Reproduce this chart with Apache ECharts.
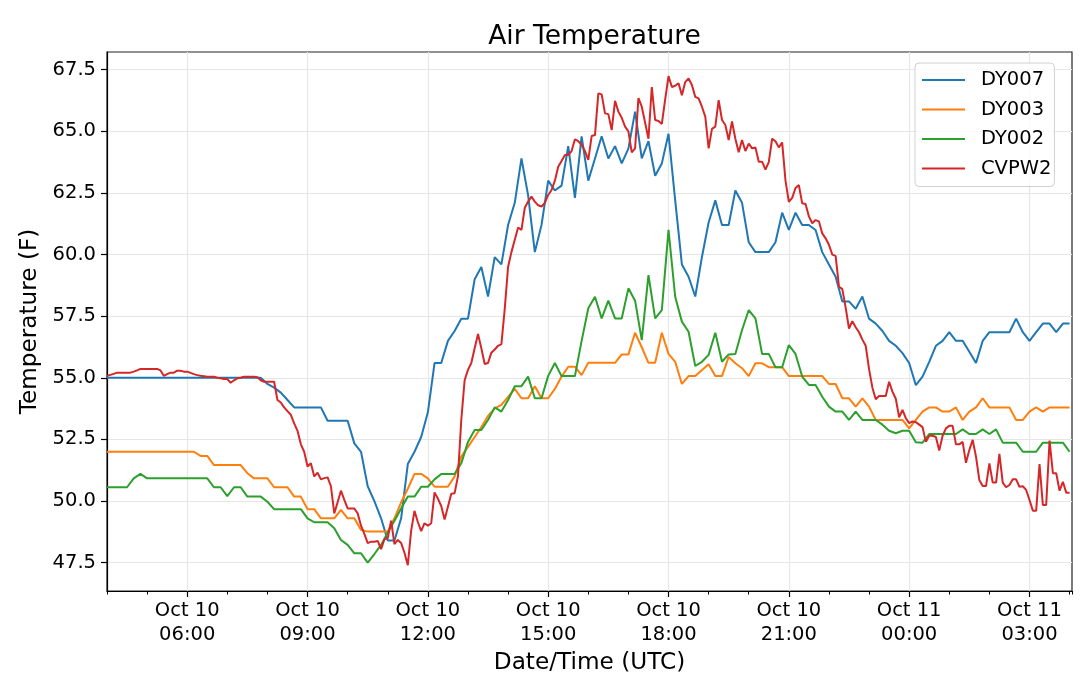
<!DOCTYPE html>
<html>
<head>
<meta charset="utf-8">
<script src="https://cdn.jsdelivr.net/npm/echarts@6/dist/echarts.min.js"></script>
<style>
html,body{margin:0;padding:0;background:#fff;}
#chart{width:1080px;height:675px;}
</style>
</head>
<body>
<div id="chart"></div>
<script>
// Time: hours since Oct 10 00:00 (UTC)
const startHour = 4;            // Oct 10 04:00
const step10 = 1 / 6;           // 10-minute sampling (DY stations)
const step5 = 1 / 12;           // 5-minute sampling (CVPW2)
const xMin = 4, xMax = 28.06;
const xMajorTicks = [6, 9, 12, 15, 18, 21, 24, 27];
const yTicks = [47.5, 50.0, 52.5, 55.0, 57.5, 60.0, 62.5, 65.0, 67.5];
const seriesNames = ['DY007', 'DY003', 'DY002', 'CVPW2'];
const seriesColors = ['#1f77b4', '#ff7f0e', '#2ca02c', '#d62728'];

const dy007 = [
  55.0,55.0,55.0,55.0,55.0,55.0,55.0,55.0,55.0,55.0,55.0,55.0,
  55.0,55.0,55.0,55.0,55.0,55.0,55.0,55.0,55.0,55.0,55.0,55.0,
  54.75,54.6,54.4,54.1,
  53.8,53.8,53.8,53.8,53.8,
  53.26,53.26,53.26,53.26,
  52.34,52.0,50.6,50.0,49.3,48.4,48.4,49.3,51.5,52.0,52.6,53.6,
  55.6,55.6,56.5,56.9,57.4,57.4,
  59.0,59.5,58.3,59.9,59.6,61.2,62.1,63.9,62.4,60.1,61.2,63.0,
  62.6,62.8,64.4,62.3,64.8,63.0,63.9,64.8,63.9,64.4,63.7,64.3,
  65.8,63.9,64.6,63.2,63.7,64.9,62.2,59.6,59.1,58.3,59.9,61.3,
  62.2,61.2,61.2,62.6,62.1,60.5,60.1,60.1,60.1,60.5,61.7,61.0,
  61.7,61.2,61.2,61.0,60.1,59.6,59.1,58.1,58.1,57.8,58.3,57.4,
  57.2,56.9,56.5,56.3,56.0,55.6,54.7,55.05,55.65,56.3,56.5,56.85,
  56.5,56.5,56.06,55.6,56.5,56.85,56.85,56.85,56.85,57.4,56.85,56.5,
  56.85,57.2,57.2,56.85,57.2,57.2
];

const dy003 = [
  52.0,52.0,52.0,52.0,52.0,52.0,52.0,52.0,52.0,52.0,52.0,52.0,52.0,52.0,
  51.83,51.83,51.46,51.46,51.46,51.46,51.46,51.13,50.92,50.92,
  50.92,50.56,50.56,50.56,50.18,50.18,49.67,49.67,49.3,49.3,49.3,49.64,
  49.3,49.3,48.83,48.76,48.76,48.76,48.76,49.3,49.95,50.5,51.1,51.1,
  50.92,50.58,50.58,50.58,51.0,51.8,52.2,52.6,53.0,53.45,53.76,53.9,
  54.23,54.55,54.17,54.17,54.66,54.17,54.17,54.55,55.05,55.45,55.45,55.11,
  55.61,55.61,55.61,55.61,55.61,55.95,55.95,56.83,56.24,55.61,55.61,56.83,
  55.97,55.65,54.75,55.07,55.07,55.32,55.55,55.07,55.07,55.85,55.59,55.39,
  55.07,55.59,55.59,55.43,55.43,55.43,55.07,55.07,55.07,55.07,55.07,55.07,
  54.75,54.75,54.17,54.17,53.83,54.17,53.83,53.29,53.29,53.29,53.29,53.29,
  52.95,53.29,53.63,53.8,53.8,53.63,53.63,53.8,53.29,53.63,53.8,54.17,
  53.8,53.8,53.8,53.8,53.29,53.29,53.63,53.8,53.63,53.8,53.8,53.8,
  53.8
];

const dy002 = [
  50.56,50.56,50.56,50.56,50.92,51.1,50.92,50.92,50.92,50.92,50.92,50.92,
  50.92,50.92,50.92,50.92,50.56,50.56,50.2,50.56,50.56,50.18,50.18,50.18,
  49.97,49.67,49.67,49.67,49.67,49.67,49.3,49.14,49.14,49.14,48.9,48.42,
  48.22,47.88,47.88,47.5,47.85,48.22,48.72,49.2,49.7,50.18,50.18,50.58,
  50.58,50.88,51.1,51.1,51.1,51.53,52.4,52.88,52.88,53.29,53.8,53.63,
  54.1,54.66,54.66,55.05,54.17,54.17,55.08,55.6,55.07,55.07,55.07,56.5,
  57.82,58.29,57.41,58.13,57.41,57.41,58.63,58.13,56.53,59.17,57.41,57.75,
  61.0,58.29,57.28,56.87,55.48,55.65,55.93,56.83,55.65,55.95,55.97,56.94,
  57.75,57.41,55.97,55.97,55.43,55.43,56.33,55.97,55.05,54.71,54.71,54.23,
  53.83,53.63,53.63,53.29,53.63,53.29,53.29,53.29,53.1,52.85,52.75,52.85,
  52.85,52.39,52.37,52.72,52.72,52.72,52.72,52.72,52.91,52.72,52.72,52.91,
  52.72,52.91,52.37,52.37,52.37,52.0,52.0,52.0,52.37,52.37,52.37,52.37,
  52.0
];

const cvpw2 = [
  55.08,55.12,55.16,55.21,55.21,55.21,55.21,55.21,55.25,55.3,55.36,55.36,
  55.36,55.36,55.36,55.36,55.3,55.08,55.15,55.21,55.21,55.29,55.29,55.25,
  55.25,55.2,55.15,55.11,55.08,55.06,55.04,55.04,55.04,55.0,54.98,54.95,
  54.95,54.8,54.9,54.98,55.0,55.04,55.04,55.04,55.04,55.02,54.9,54.84,
  54.84,54.84,54.84,54.1,54.0,53.8,53.65,53.5,53.15,52.85,52.3,52.0,
  51.4,51.53,51.0,51.15,50.88,50.93,50.96,50.6,49.5,49.95,50.42,50.05,
  49.7,49.7,49.7,49.5,49.0,48.67,48.29,48.35,48.35,48.38,48.05,48.45,
  48.5,49.2,48.25,48.42,48.3,47.9,47.4,48.8,49.6,49.15,48.78,49.1,
  49.0,49.1,50.35,50.1,49.8,49.25,49.77,50.3,50.32,51.0,53.3,54.9,
  55.32,55.6,56.2,56.78,56.2,55.56,55.6,56.02,56.15,56.3,56.37,57.8,
  59.5,60.1,60.6,61.1,61.0,61.9,62.15,62.35,62.15,62.0,61.95,62.1,
  62.42,62.62,63.0,63.56,63.8,64.04,64.04,64.2,64.68,64.6,64.45,64.2,
  63.84,64.81,64.85,66.54,66.5,65.73,65.7,65.05,66.24,65.8,65.55,65.19,
  65.0,64.15,64.31,66.35,66.0,65.35,64.7,66.8,65.46,65.42,65.3,66.3,
  67.24,66.8,66.85,66.95,66.47,67.0,67.15,66.88,66.4,66.34,66.0,65.6,
  64.31,65.1,65.19,66.27,65.46,65.26,64.65,65.4,64.7,64.15,64.65,64.2,
  64.5,64.31,64.35,63.77,63.77,63.45,63.75,64.7,64.6,64.35,64.55,63.0,
  62.14,62.3,62.7,62.82,62.08,62.05,61.55,61.27,61.4,61.35,60.86,60.66,
  60.4,60.0,59.95,58.7,58.6,57.85,57.0,57.3,57.05,56.85,56.55,56.3,
  55.35,54.6,54.13,54.26,54.26,54.26,54.84,54.44,54.15,53.4,53.7,53.36,
  53.16,53.23,53.2,53.1,53.0,52.4,52.65,52.65,52.6,52.05,52.65,52.95,
  53.05,53.05,52.3,52.3,52.4,51.55,52.07,52.48,51.8,50.85,50.61,50.61,
  51.53,50.75,50.75,51.91,50.75,50.56,50.65,50.88,50.88,50.58,50.6,50.45,
  50.04,49.61,49.61,51.5,49.84,49.84,52.45,51.13,51.13,50.42,50.78,50.34,50.34
];

const seriesValues = [dy007, dy003, dy002, cvpw2];
const seriesSteps = [step10, step10, step10, step5];

function toPairs(values, step) {
  return values.map((v, i) => [startHour + i * step, v]);
}
function pad2(n) { return (n < 10 ? '0' : '') + n; }
function hourLabel(h) {
  const day = h < 24 ? 'Oct 10' : 'Oct 11';
  const hh = Math.round(h) % 24;
  return day + '\n' + pad2(hh) + ':00';
}

const FONT = 'DejaVu Sans';
const chart = echarts.init(document.getElementById('chart'), null, {renderer: 'canvas'});

const series = seriesNames.map((name, k) => ({
  name: name,
  type: 'line',
  xAxisIndex: 0,
  yAxisIndex: 0,
  data: toPairs(seriesValues[k], seriesSteps[k]),
  showSymbol: false,
  symbol: 'none',
  lineStyle: {color: seriesColors[k], width: 2},
  itemStyle: {color: seriesColors[k]},
  emphasis: {disabled: true},
  animation: false
}));

chart.setOption({
  animation: false,
  backgroundColor: '#ffffff',
  textStyle: {fontFamily: FONT},
  title: {
    text: 'Air Temperature',
    left: 589.5,
    textAlign: 'center',
    top: 19,
    textStyle: {fontFamily: FONT, fontSize: 26.5, fontWeight: 'normal', color: '#000'}
  },
  grid: {
    left: 107, right: 8, top: 52, bottom: 84,
    show: true, borderColor: '#222', borderWidth: 1.2, backgroundColor: 'transparent',
    containLabel: false,
    outerBoundsMode: 'none'
  },
  legend: {
    orient: 'vertical',
    left: 915,
    top: 63,
    padding: [6, 3, 7, 7],
    itemWidth: 43,
    itemHeight: 14,
    itemGap: 7.5,
    backgroundColor: 'rgba(255,255,255,0.8)',
    borderColor: '#d0d0d0',
    borderWidth: 1,
    borderRadius: 4,
    textStyle: {fontFamily: FONT, fontSize: 19.5, color: '#000', padding: [0, 0, 0, 11], lineHeight: 22},
    data: seriesNames.map((n, k) => ({name: n, icon: 'path://M0,0 L43,0 L43,2 L0,2 Z', itemStyle: {color: seriesColors[k]}}))
  },
  xAxis: [
    {
      type: 'value',
      min: xMin, max: xMax,
      position: 'bottom',
      name: 'Date/Time (UTC)',
      nameLocation: 'middle',
      nameGap: 55,
      nameTextStyle: {fontFamily: FONT, fontSize: 23.2, color: '#000'},
      axisLine: {show: true, onZero: false, lineStyle: {color: '#000', width: 1.2}},
      axisTick: {show: true, length: 6, customValues: xMajorTicks, lineStyle: {color: '#000', width: 1.2}},
      axisLabel: {
        customValues: xMajorTicks,
        formatter: hourLabel,
        fontFamily: FONT, fontSize: 19.5, color: '#000', lineHeight: 24, margin: 8
      },
      splitLine: {show: true, lineStyle: {color: '#e6e6e6', width: 1.2}}
    },
    {
      type: 'value',
      min: xMin, max: xMax,
      interval: 1,
      position: 'bottom',
      axisLine: {show: false, onZero: false},
      axisTick: {show: true, length: 3.5, lineStyle: {color: '#000', width: 1}},
      axisLabel: {show: false},
      splitLine: {show: false}
    }
  ],
  yAxis: {
    type: 'value',
    min: 46.35, max: 68.22,
    name: 'Temperature (F)',
    nameLocation: 'middle',
    nameGap: 59,
    nameTextStyle: {fontFamily: FONT, fontSize: 23.2, color: '#000'},
    axisLine: {show: true, onZero: false, lineStyle: {color: '#000', width: 1.2}},
    axisTick: {show: true, length: 6, customValues: yTicks, lineStyle: {color: '#000', width: 1.2}},
    axisLabel: {
      customValues: yTicks,
      formatter: v => Number(v).toFixed(1),
      fontFamily: FONT, fontSize: 19.5, color: '#000', margin: 11
    },
    splitLine: {show: true, lineStyle: {color: '#e6e6e6', width: 1.2}}
  },
  series: series
});
</script>
</body>
</html>
